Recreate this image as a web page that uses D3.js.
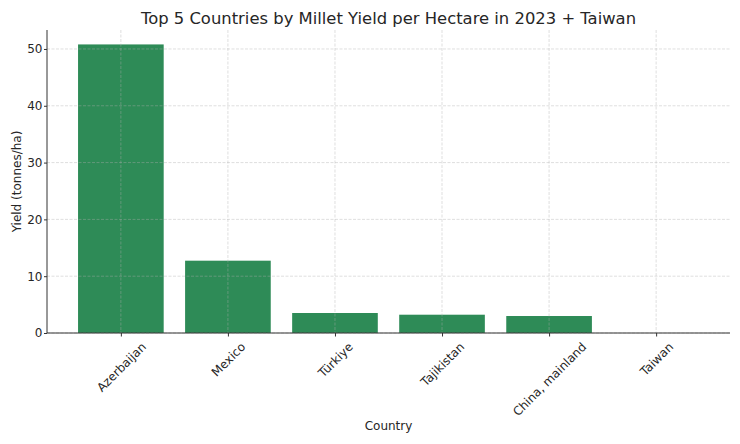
<!DOCTYPE html>
<html><head><meta charset="utf-8">
<script src="https://cdn.jsdelivr.net/npm/d3@7"></script>
<style>body{margin:0;background:#fff}svg{display:block}text{font-family:"DejaVu Sans",sans-serif;fill:#262626}</style>
</head><body><svg id="c" width="740" height="444"></svg>
<script>
const countries = ["Azerbaijan","Mexico","Türkiye","Tajikistan","China, mainland","Taiwan"];
const yields = [50.8, 12.73, 3.52, 3.22, 2.99, 0];
const yTicks = [0,10,20,30,40,50];
const titleText = "Top 5 Countries by Millet Yield per Hectare in 2023 + Taiwan";

const svg = d3.select("#c");
const m = {l:47, r:730, t:30, b:333};
const x = d3.scaleLinear().domain([-0.69, 5.69]).range([m.l, m.r]);
const y = d3.scaleLinear().domain([0, 53.34]).range([m.b, m.t]);

// bars
svg.append("g").selectAll("rect").data(yields).join("rect")
  .attr("x",(d,i)=>x(i-0.4)).attr("width",x(0.4)-x(-0.4))
  .attr("y",d=>y(d)).attr("height",d=>y(0)-y(d))
  .attr("fill","#2e8b57");

// grid
const grid = svg.append("g").attr("stroke","#b0b0b0").attr("stroke-opacity",0.5)
  .attr("stroke-width",0.8).attr("stroke-dasharray","3,1.5");
grid.selectAll(".gy").data(yTicks).join("line")
  .attr("x1",m.l).attr("x2",m.r).attr("y1",d=>y(d)).attr("y2",d=>y(d));
grid.selectAll(".gx").data(countries).join("line")
  .attr("x1",(d,i)=>x(i)).attr("x2",(d,i)=>x(i)).attr("y1",m.t).attr("y2",m.b);

// y axis
const ya = svg.append("g").attr("transform",`translate(${m.l},0)`)
  .call(d3.axisLeft(y).tickValues(yTicks).tickSize(3).tickPadding(1.5));
ya.select(".domain").remove();
ya.selectAll("line").attr("stroke","#333");
ya.selectAll("text").attr("font-size",12).attr("font-family","DejaVu Sans").attr("fill","#262626");

// x axis
const xa = svg.append("g").attr("transform",`translate(0,${m.b})`)
  .call(d3.axisBottom(x).tickValues(d3.range(countries.length)).tickFormat(i=>countries[i]).tickSize(3.5));
xa.select(".domain").remove();
xa.selectAll("line").attr("stroke","#333");
const fs = 12;
xa.selectAll("text").attr("font-size",fs).attr("font-family","DejaVu Sans").attr("fill","#262626")
  .attr("text-anchor","middle").attr("y",0).attr("dy","0.35em")
  .each(function(){
    const L = this.getComputedTextLength();
    const h = fs*1.1;
    const cy = 7 + (L/2 + h/2)*Math.SQRT1_2;
    d3.select(this).attr("transform",`translate(0,${cy}) rotate(-45)`);
  });

// spines
svg.append("line").attr("x1",m.l).attr("x2",m.l).attr("y1",m.t).attr("y2",m.b).attr("stroke","#333").attr("stroke-width",1);
svg.append("line").attr("x1",m.l).attr("x2",m.r).attr("y1",m.b).attr("y2",m.b).attr("stroke","#333").attr("stroke-width",1);

// titles
svg.append("text").attr("x",(m.l+m.r)/2).attr("y",24).attr("text-anchor","middle").attr("font-size",16.4).text(titleText);
svg.append("text").attr("x",(m.l+m.r)/2).attr("y",430).attr("text-anchor","middle").attr("font-size",12).text("Country");
svg.append("text").attr("transform",`translate(21,${(m.t+m.b)/2}) rotate(-90)`).attr("text-anchor","middle").attr("font-size",12).text("Yield (tonnes/ha)");
</script></body></html>
